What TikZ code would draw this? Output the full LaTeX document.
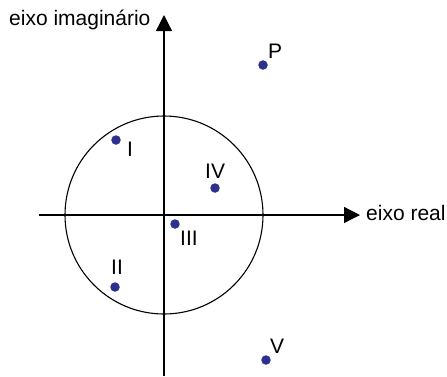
\documentclass[tikz,border=0pt]{standalone}
\usepackage{fontspec}
\setmainfont{Liberation Sans}
\usetikzlibrary{arrows.meta}
\definecolor{dotblue}{RGB}{45,48,140}
\tikzset{
  lbl/.style={anchor=base west,inner sep=0pt,font=\fontsize{21}{24}\selectfont},
  pt/.style={circle,fill=dotblue,inner sep=0pt,minimum size=9.5pt},
  axis/.style={line width=1.3pt,-{Triangle[length=16pt,width=16pt]}}
}
\begin{document}
\begin{tikzpicture}[x=1pt,y=-1pt]
\useasboundingbox (0,0) rectangle (447,376);
\coordinate (xs) at (39,215);
\coordinate (xe) at (360,215);
\coordinate (ys) at (164,376);
\coordinate (ye) at (164,15);
\coordinate (o) at (164,215);
\draw[axis] (xs) -- (xe);
\draw[axis] (ys) -- (ye);
\draw[line width=1.1pt] (o) circle[radius=99];
\node[lbl] (ly) at (9,25) {eixo imaginário};
\node[lbl] (lx) at (366,220) {eixo real};
\node[pt] (P) at (263,65) {};
\node[pt] (I) at (116,140) {};
\node[pt] (IV) at (215,188) {};
\node[pt] (III) at (175,224) {};
\node[pt] (II) at (115,287) {};
\node[pt] (V) at (266,360) {};
\node[lbl] (lP) at (268,58) {P};
\node[lbl] (lI) at (127,156) {I};
\node[lbl] (lIV) at (205,178) {IV};
\node[lbl] (lIII) at (180,245) {III};
\node[lbl] (lII) at (111,274) {II};
\node[lbl] (lV) at (270,353) {V};
\end{tikzpicture}
\end{document}
